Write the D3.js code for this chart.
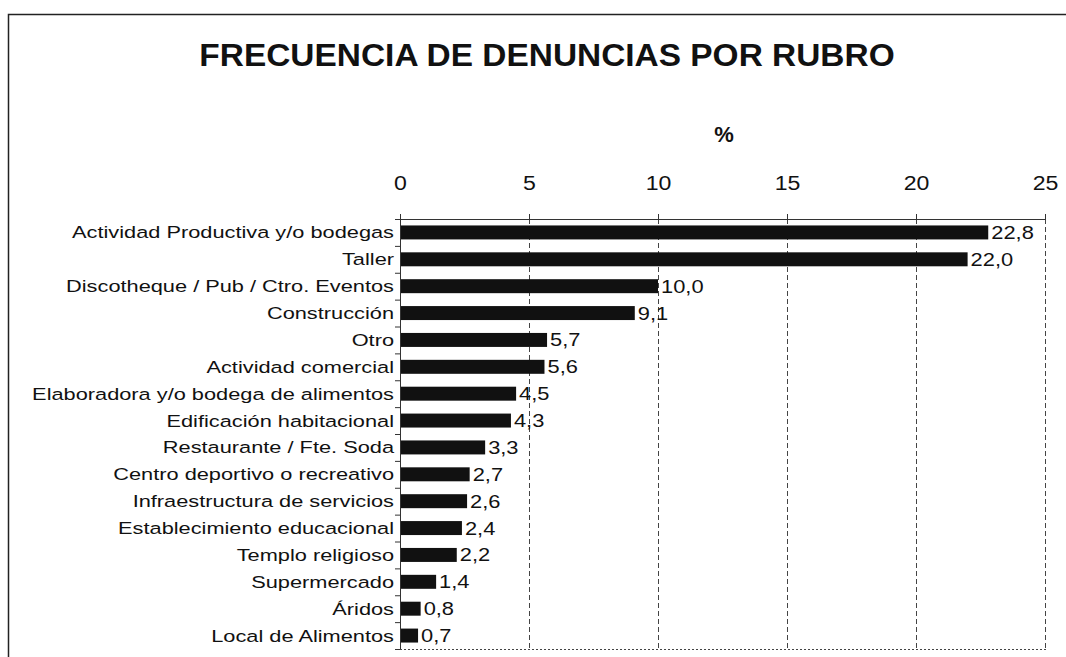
<!DOCTYPE html>
<html>
<head>
<meta charset="utf-8">
<script src="https://cdn.jsdelivr.net/npm/d3@7"></script>
<style>
  html, body { margin: 0; padding: 0; background: #fff; }
  svg { display: block; }
  text { font-family: "Liberation Sans", Arial, sans-serif; fill: #111; }
</style>
</head>
<body>
<svg id="chart" width="1066" height="657"></svg>
<script>
// Frecuencia de denuncias por rubro (%)
const categories = [
  "Actividad Productiva y/o bodegas",
  "Taller",
  "Discotheque / Pub / Ctro. Eventos",
  "Construcción",
  "Otro",
  "Actividad comercial",
  "Elaboradora y/o bodega de alimentos",
  "Edificación habitacional",
  "Restaurante / Fte. Soda",
  "Centro deportivo o recreativo",
  "Infraestructura de servicios",
  "Establecimiento educacional",
  "Templo religioso",
  "Supermercado",
  "Áridos",
  "Local de Alimentos"
];
const values = [22.8, 22.0, 10.0, 9.1, 5.7, 5.6, 4.5, 4.3, 3.3, 2.7, 2.6, 2.4, 2.2, 1.4, 0.8, 0.7];
const xTicks = [0, 5, 10, 15, 20, 25];

const svg = d3.select("#chart");
const plotLeft = 400, plotRight = 1045, plotTop = 219, plotBottom = 649;

const x = d3.scaleLinear().domain([0, 25]).range([plotLeft, plotRight]);
const y = d3.scaleBand().domain(categories).range([plotTop, plotBottom]).paddingInner(0.48).paddingOuter(0.24);
const band = d3.scaleBand().domain(categories).range([plotTop, plotBottom]);

// the typeface in this chart runs wide, so text is stretched horizontally
const wide = (sel, sx, px, py) => sel.attr("transform", `translate(${px},${py}) scale(${sx},1)`);

// outer frame
svg.append("path")
  .attr("d", `M8.5,657 V14.5 H1066`)
  .attr("fill", "none").attr("stroke", "#222").attr("stroke-width", 1.5);

// title
svg.append("text")
  .call(wide, 1.045, 547, 66)
  .attr("text-anchor", "middle")
  .attr("font-size", 32).attr("font-weight", "bold")
  .text("FRECUENCIA DE DENUNCIAS POR RUBRO");

// axis unit
svg.append("text")
  .attr("x", 724).attr("y", 142)
  .attr("text-anchor", "middle")
  .attr("font-size", 22).attr("font-weight", "bold")
  .text("%");

// vertical gridlines
svg.append("g").selectAll("line")
  .data(xTicks.slice(1))
  .join("line")
  .attr("x1", d => x(d) + 0.5).attr("x2", d => x(d) + 0.5)
  .attr("y1", plotTop).attr("y2", plotBottom)
  .attr("stroke", "#444").attr("stroke-width", 1)
  .attr("stroke-dasharray", "5,3");

// plot frame: top solid, bottom dotted
svg.append("line")
  .attr("x1", plotLeft).attr("x2", plotRight + 1).attr("y1", plotTop + 0.5).attr("y2", plotTop + 0.5)
  .attr("stroke", "#333").attr("stroke-width", 1);
svg.append("line")
  .attr("x1", plotLeft).attr("x2", plotRight + 1).attr("y1", plotBottom + 0.5).attr("y2", plotBottom + 0.5)
  .attr("stroke", "#444").attr("stroke-width", 1).attr("stroke-dasharray", "2,2");

// top axis with tick labels
const xAxis = d3.axisTop(x).tickValues(xTicks).tickSize(0).tickPadding(0).tickFormat(d3.format("d"));
const gx = svg.append("g").attr("transform", `translate(0,${190})`).call(xAxis);
gx.select(".domain").remove();
gx.selectAll("text")
  .attr("font-size", 21).attr("fill", "#111")
  .attr("font-family", "'Liberation Sans', Arial, sans-serif")
  .attr("y", 0).attr("dy", 0)
  .attr("transform", "scale(1.1,1)");
// small tick marks on the top frame
svg.append("g").selectAll("line")
  .data(xTicks)
  .join("line")
  .attr("x1", d => x(d) + 0.5).attr("x2", d => x(d) + 0.5)
  .attr("y1", plotTop - 5).attr("y2", plotTop)
  .attr("stroke", "#333");

// category axis
svg.append("line")
  .attr("x1", plotLeft + 0.5).attr("x2", plotLeft + 0.5).attr("y1", plotTop).attr("y2", plotBottom)
  .attr("stroke", "#333").attr("stroke-width", 1);
svg.append("g").selectAll("line")
  .data(categories.concat(["_end"]))
  .join("line")
  .attr("x1", plotLeft - 5).attr("x2", plotLeft)
  .attr("y1", (d, i) => plotTop + i * band.step() + 0.5)
  .attr("y2", (d, i) => plotTop + i * band.step() + 0.5)
  .attr("stroke", "#333");

svg.append("g").selectAll("text")
  .data(categories)
  .join("text")
  .each(function (d) {
    d3.select(this).call(wide, 1.32, plotLeft - 6, band(d) + band.bandwidth() / 2 + 6);
  })
  .attr("text-anchor", "end")
  .attr("font-size", 16.5)
  .text(d => d);

// bars
svg.append("g").selectAll("rect")
  .data(values)
  .join("rect")
  .attr("x", x(0) + 1)
  .attr("y", (d, i) => y(categories[i]))
  .attr("width", d => x(d) - x(0) - 1)
  .attr("height", y.bandwidth())
  .attr("fill", "#111");

// value labels
const fmt = d => d.toFixed(1).replace(".", ",");
svg.append("g").selectAll("text")
  .data(values)
  .join("text")
  .each(function (d, i) {
    d3.select(this).call(wide, 1.25, x(d) + 3, band(categories[i]) + band.bandwidth() / 2 + 6.5);
  })
  .attr("font-size", 17.5)
  .text(fmt);
</script>
</body>
</html>
